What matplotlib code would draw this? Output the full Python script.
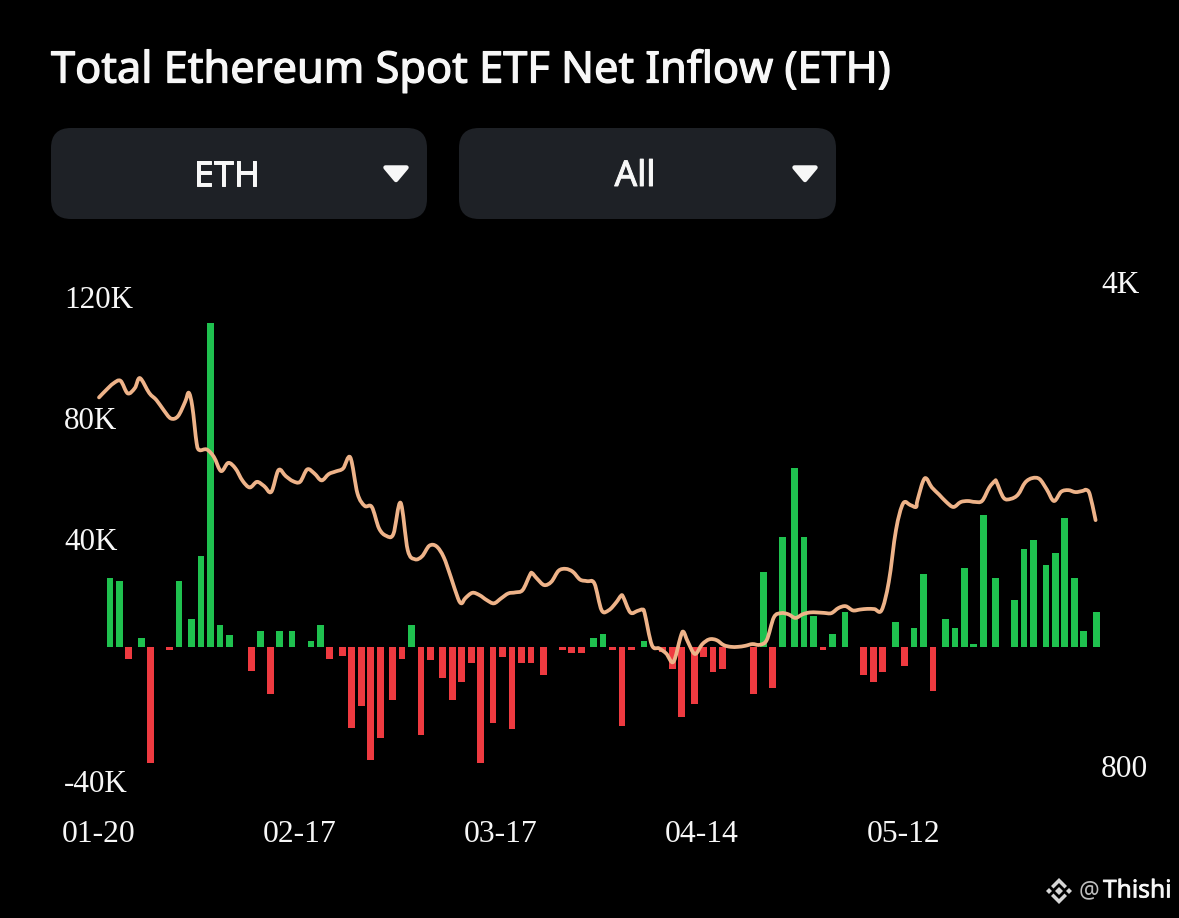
import matplotlib
matplotlib.use("Agg")
import matplotlib.pyplot as plt
import matplotlib.transforms as mtransforms
import matplotlib.patheffects as pe
from matplotlib.patches import FancyBboxPatch, Polygon, PathPatch
from matplotlib.path import Path
import numpy as np
import pandas as pd

TITLE = "Total Ethereum Spot ETF Net Inflow (ETH)"
DROPDOWNS = ["ETH", "All"]
START = "2025-01-20"
END = "2025-06-09"
TICK_DATES = ["2025-01-20", "2025-02-17", "2025-03-17", "2025-04-14", "2025-05-12"]
TICK_LABELS = ["01-20", "02-17", "03-17", "04-14", "05-12"]
LEFT_TICKS = [-40, 40, 80, 120]
LEFT_LABELS = ["-40K", "40K", "80K", "120K"]
RIGHT_TICKS = [800, 4000]
RIGHT_LABELS = ["800", "4K"]

# net flow in thousand ETH, one value per weekday from START to END
net_flow_k = [
    0, 0, 22.8, 21.7, -4.0,
    3.0, -38.3, 0, -0.9, 21.7,
    9.4, 30.0, 107.1, 7.2, 4.1,
    0, -8.0, 5.2, -15.4, 5.2,
    5.2, 0, 2.1, 7.2, -4.0,
    -3.1, -26.8, -19.6, -37.2, -30.1,
    -17.4, -4.0, 7.2, -29.0, -4.3,
    -10.4, -17.5, -11.5, -5.2, -38.5,
    -25.0, -3.2, -27.0, -5.2, -5.2,
    -9.4, 0, -1.1, -2.1, -2.1,
    3.1, 4.2, -1.1, -26.0, -1.1,
    2.1, 0, -1.5, -7.4, -23.0,
    -18.8, -3.2, -8.3, -7.4, 0,
    0, -15.6, 24.9, -13.6, 36.5,
    59.3, 36.5, 10.4, -1.1, 4.2,
    11.5, 0, -9.4, -11.5, -8.3,
    8.3, -6.3, 6.2, 24.0, -14.5,
    9.4, 6.2, 26.0, 1.0, 43.6,
    22.8, 0, 15.5, 32.3, 35.5,
    27.1, 31.2, 42.6, 22.8, 5.2,
    11.5,
]

# price line: days since START and price
line_days = [0, 1, 2, 3, 4, 5, 5.7, 7, 8, 9, 10, 11, 12, 12.5, 13, 13.6, 14, 15, 16, 17, 18, 19, 20,
             21, 22, 23, 24, 25, 26, 27, 28, 29, 30, 31, 32, 33, 34, 35, 36, 37, 38, 39, 40, 41, 42,
             43, 44, 45, 46, 47, 48, 49, 50, 50.5, 51, 52, 53, 54, 55, 56, 57, 58, 59, 60, 60.3, 61,
             62, 63, 64, 65, 66, 67, 68, 69, 70, 71, 72, 72.7, 73, 74, 75, 75.7, 76, 77, 78, 79, 80,
             81, 81.4, 82, 83, 84, 85, 86, 87, 88, 89, 90, 91, 92, 93, 94, 95, 96, 97, 98, 99, 100,
             101, 102, 103, 104, 105, 106, 107, 108, 109, 110, 111, 112, 113, 113.8, 114, 115, 116,
             117, 118, 119, 120, 121, 122, 123, 124, 124.8, 125, 126, 127, 128, 129, 130, 131, 132,
             133, 134, 135, 136, 137, 137.5, 138, 138.8]
line_price = [2725, 2793, 2855, 2880, 2762, 2812, 2906, 2765, 2701, 2613, 2541, 2560, 2686, 2768, 2642,
              2340, 2287, 2292, 2236, 2133, 2192, 2152, 2065, 2020, 2058, 2029, 1991, 2140, 2098, 2063,
              2058, 2145, 2116, 2068, 2112, 2131, 2152, 2232, 1980, 1900, 1893, 1763, 1720, 1730, 1920,
              1640, 1591, 1607, 1664, 1661, 1603, 1500, 1397, 1374, 1397, 1423, 1412, 1389, 1374, 1397,
              1420, 1425, 1436, 1509, 1520, 1492, 1460, 1476, 1531, 1541, 1526, 1487, 1479, 1468, 1343,
              1343, 1377, 1409, 1404, 1333, 1340, 1346, 1329, 1196, 1183, 1163, 1131, 1229, 1250, 1210,
              1161, 1199, 1219, 1216, 1196, 1189, 1189, 1193, 1200, 1197, 1216, 1312, 1330, 1325, 1309,
              1325, 1333, 1333, 1331, 1330, 1353, 1361, 1342, 1346, 1349, 1348, 1343, 1476, 1753, 1916,
              1905, 1893, 1937, 2082, 2020, 1973, 1925, 1893, 1924, 1931, 1925, 1932, 2020, 2065, 2058,
              1951, 1945, 1973, 2054, 2084, 2077, 2007, 1931, 1991, 2002, 1989, 1997, 2004, 1973, 1812]

# --- layout (image pixels) ---
W, H = 1179, 918
PX_PER_DAY = 7.18
X0 = 99
AX_L, AX_R, AX_T, AX_B = 64, 1101, 260, 790
Y_ZERO = 647
PX_PER_K = 3.025
Y_4K, Y_800 = 282, 766
PX_PER_DECADE = (Y_800 - Y_4K) / np.log10(4000 / 800)
BAR_STEP_DAYS = 1.316
BAR_SHIFT_DAYS = -1.11
BAR_WIDTH_DAYS = 0.94

BG = "#000000"
PANEL = "#1e2126"
GREEN = "#1fc14f"
RED = "#ee3a40"
LINE = "#eeb389"
WHITE = "#f7f7f7"
SERIF = "Liberation Serif"
UI_FONT = "Noto Sans"


def heavier(width):
    return [pe.withStroke(linewidth=width, foreground=WHITE)]


fig = plt.figure(figsize=(W / 100, H / 100), dpi=100, facecolor=BG)

# --- interface chrome ---
ui = fig.add_axes([0, 0, 1, 1], zorder=0)
ui.set_xlim(0, W)
ui.set_ylim(H, 0)
ui.axis("off")
ui.text(51, 71, TITLE, color=WHITE, fontsize=31.2, family=UI_FONT, va="center", ha="left",
        path_effects=heavier(0.9))

for (x0, x1), label in zip([(51, 427), (459, 836)], DROPDOWNS):
    r = 20
    ui.add_patch(FancyBboxPatch((x0 + r, 128 + r), x1 - x0 - 2 * r, 91 - 2 * r,
                                boxstyle=f"round,pad={r},rounding_size={r}", fc=PANEL, ec="none"))
    ui.text((x0 + x1) / 2 - 12.5, 177, label, color=WHITE, fontsize=25.5, family=UI_FONT,
            ha="center", va="center", path_effects=heavier(0.7))
    cx = x1 - 31
    ui.add_patch(Polygon([(cx - 10.5, 167.5), (cx + 10.5, 167.5), (cx, 180)], closed=True, fc=WHITE, ec=WHITE,
                         lw=3.2, joinstyle="round"))

# watermark
cx, cy = 1059, 891
logo = [
    [(0, -4), (4, 0), (0, 4), (-4, 0)],
    [(-13, 0), (-10, -3), (-7, 0), (-10, 3)],
    [(13, 0), (10, -3), (7, 0), (10, 3)],
    [(0, -13), (8, -5), (5.5, -2.5), (0, -8), (-5.5, -2.5), (-8, -5)],
    [(0, 13), (8, 5), (5.5, 2.5), (0, 8), (-5.5, 2.5), (-8, 5)],
]
for pts in logo:
    ui.add_patch(Polygon([(cx + a, cy + b) for a, b in pts], closed=True, fc="#d6d6d6", ec="none"))
ui.text(1079, 891, "@", color="#bdbdbd", fontsize=16.5, family=UI_FONT, ha="left", va="center")
ui.text(1103, 891, "Thishi", color=WHITE, fontsize=17.7, family=UI_FONT, ha="left", va="center",
        path_effects=heavier(0.5))

# --- chart axes ---
rect = [AX_L / W, 1 - AX_B / H, (AX_R - AX_L) / W, (AX_B - AX_T) / H]
ax = fig.add_axes(rect, zorder=1)
ax.patch.set_alpha(0)
ax2 = ax.twinx()
ax2.patch.set_alpha(0)

dates = pd.bdate_range(START, END)
days = np.array((dates - pd.Timestamp(START)).days, dtype=float)
weeks = np.floor(days / 7)
weekday = days - weeks * 7
bar_x = weeks * 7 + weekday * BAR_STEP_DAYS + BAR_SHIFT_DAYS
values = np.array(net_flow_k, dtype=float)
ax.bar(bar_x, values, width=BAR_WIDTH_DAYS, color=[GREEN if v >= 0 else RED for v in values], linewidth=0)

ax.set_xlim((AX_L - X0) / PX_PER_DAY, (AX_R - X0) / PX_PER_DAY)
ax.set_ylim((Y_ZERO - AX_B) / PX_PER_K, (Y_ZERO - AX_T) / PX_PER_K)

# price line, smooth curve through the read points
xs = np.array(line_days, dtype=float)
ys = np.log10(np.array(line_price, dtype=float))
tx = np.gradient(xs)
ty = np.gradient(ys)
verts = [(xs[0], 10 ** ys[0])]
codes = [Path.MOVETO]
for i in range(len(xs) - 1):
    verts.append((xs[i] + tx[i] / 3, 10 ** (ys[i] + ty[i] / 3)))
    verts.append((xs[i + 1] - tx[i + 1] / 3, 10 ** (ys[i + 1] - ty[i + 1] / 3)))
    verts.append((xs[i + 1], 10 ** ys[i + 1]))
    codes += [Path.CURVE4, Path.CURVE4, Path.CURVE4]
ax2.set_yscale("log")
ax2.add_patch(PathPatch(Path(verts, codes), fill=False, ec=LINE, lw=2.7, capstyle="round", joinstyle="round"))
ax2.set_xlim(ax.get_xlim())
ax2.set_ylim(800 / 10 ** ((AX_B - Y_800) / PX_PER_DECADE), 4000 * 10 ** ((Y_4K - AX_T) / PX_PER_DECADE))

# ticks
tick_days = [(pd.Timestamp(d) - pd.Timestamp(START)).days for d in TICK_DATES]
ax.set_xticks(tick_days)
ax.set_xticklabels(TICK_LABELS)
ax.set_yticks(LEFT_TICKS)
ax.set_yticklabels(LEFT_LABELS)
ax.tick_params(axis="x", length=0, pad=21.5, labelcolor=WHITE, labelsize=22.8)
ax.tick_params(axis="y", length=0, pad=0, labelcolor=WHITE, labelsize=22.4)
shift = mtransforms.ScaledTranslation(0, -13 / 100, fig.dpi_scale_trans)
for lab in ax.get_xticklabels() + ax.get_yticklabels():
    lab.set_family(SERIF)
for lab in ax.get_yticklabels():
    lab.set_ha("left")
    lab.set_transform(lab.get_transform() + shift)

ax2.set_yticks(RIGHT_TICKS)
ax2.set_yticklabels(RIGHT_LABELS)
ax2.minorticks_off()
ax2.tick_params(axis="y", which="both", length=0, pad=0, labelcolor=WHITE, labelsize=22.6)
for lab in ax2.get_yticklabels():
    lab.set_family(SERIF)

for a in (ax, ax2):
    for sp in a.spines.values():
        sp.set_visible(False)

fig.savefig("out.png", dpi=100, facecolor=BG)
